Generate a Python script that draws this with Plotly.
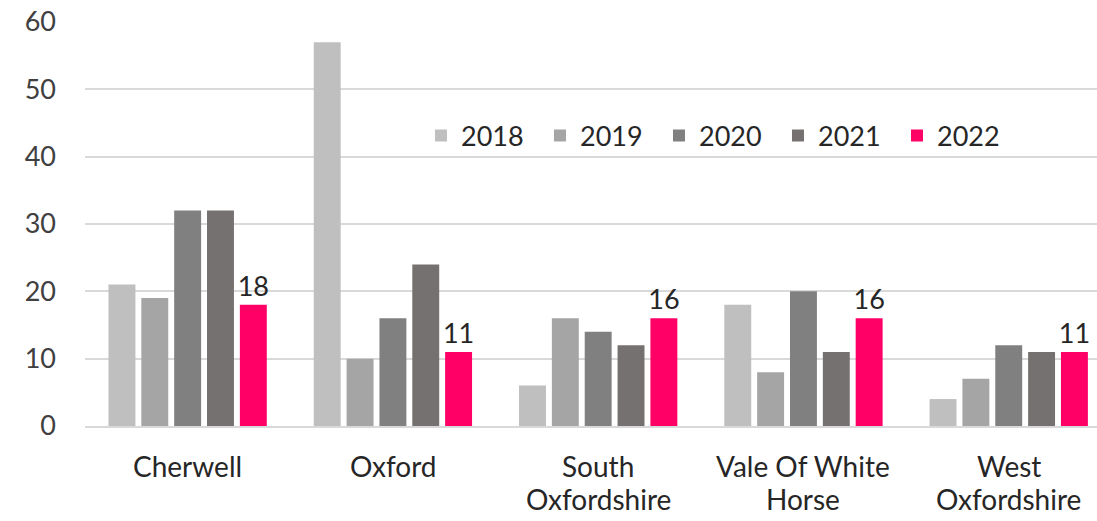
import plotly.graph_objects as go

categories = ["Cherwell", "Oxford", "South Oxfordshire", "Vale Of White Horse", "West Oxfordshire"]
label_lines = [["Cherwell", ""], ["Oxford", ""], ["South", "Oxfordshire"], ["Vale Of White", "Horse"], ["West", "Oxfordshire"]]
years = ["2018", "2019", "2020", "2021", "2022"]
v2018 = [21, 57, 6, 18, 4]
v2019 = [19, 10, 16, 8, 7]
v2020 = [32, 16, 14, 20, 12]
v2021 = [32, 24, 12, 11, 11]
v2022 = [18, 11, 16, 16, 11]
series = [v2018, v2019, v2020, v2021, v2022]
colors = ["#BFBFBF", "#A5A5A5", "#808080", "#767171", "#FF0066"]

FONT = "Lato, Open Sans, sans-serif"
FS = 27

fig = go.Figure()
for yr, vals, col in zip(years, series, colors):
    show_text = yr == "2022"
    fig.add_trace(go.Bar(
        name=yr, x=categories, y=vals, marker_color=col, marker_line_width=0,
        text=[str(v) for v in vals] if show_text else None,
        textposition="outside" if show_text else None,
        constraintext="none",
        textfont=dict(size=FS, color="#262626", family=FONT),
        cliponaxis=False,
    ))

for cat, lines in zip(categories, label_lines):
    for i, ln in enumerate(lines):
        if ln:
            fig.add_annotation(x=cat, xref="x", y=-0.1 - i * 0.08, yref="paper",
                               text=ln, showarrow=False, yanchor="middle",
                               font=dict(size=28, color="#262626", family=FONT))

fig.update_layout(
    width=1097, height=521,
    margin=dict(l=85, r=0, t=22, b=95),
    plot_bgcolor="white", paper_bgcolor="white",
    barmode="group", bargap=0.2, bargroupgap=0.18,
    font=dict(family=FONT, size=FS, color="#404040"),
    legend=dict(orientation="h", x=0.332, y=0.718, xanchor="left", yanchor="middle",
                font=dict(size=FS, color="#262626"), bgcolor="rgba(0,0,0,0)",
                entrywidth=74, entrywidthmode="pixels", traceorder="normal"),
    showlegend=True,
)
fig.update_xaxes(showticklabels=False, showline=True, linecolor="#D9D9D9", linewidth=2, ticks="",
                 range=[-0.5, 4.43], automargin=False)
fig.update_yaxes(range=[0, 60], dtick=10, showgrid=True, gridcolor="#D9D9D9", gridwidth=2,
                 zeroline=False, ticks="", ticklabelstandoff=28, automargin=False,
                 tickfont=dict(size=FS, color="#404040"))

fig.write_html("out.html", config={"displayModeBar": False},
               post_script="document.body.style.margin='0';document.body.style.overflow='hidden';")
